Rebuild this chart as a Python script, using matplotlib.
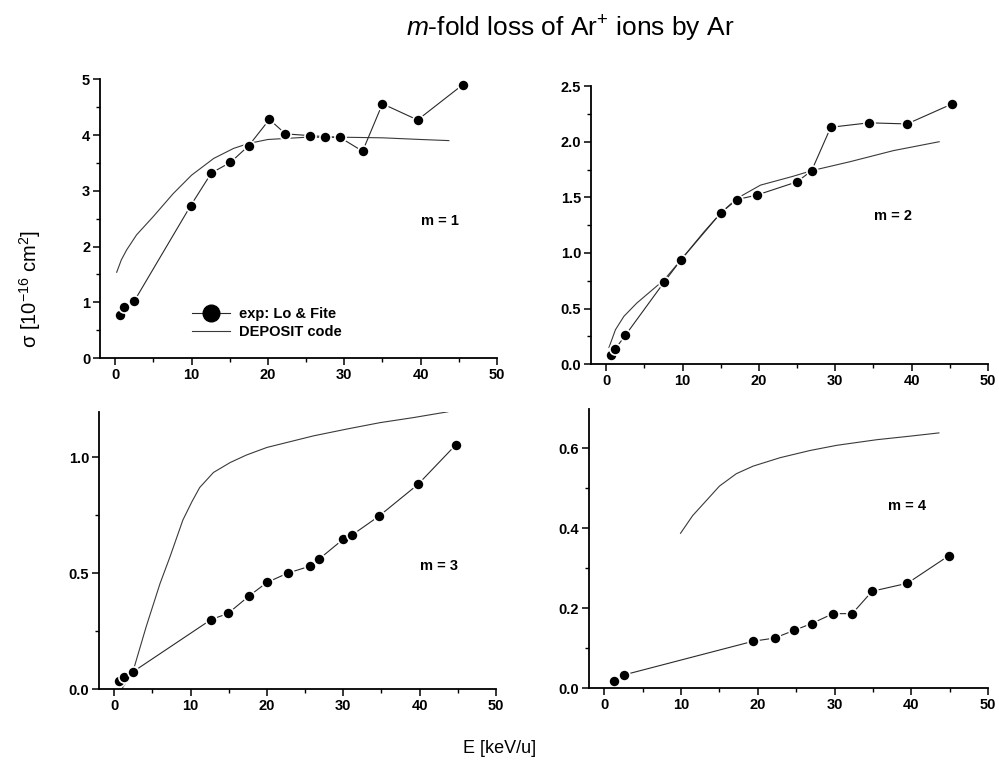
import numpy as np
import matplotlib
matplotlib.use("Agg")
import matplotlib.pyplot as plt
from matplotlib.ticker import MultipleLocator

plt.rcParams['font.family'] = ['Liberation Sans', 'DejaVu Sans']
plt.rcParams['mathtext.fontset'] = 'custom'
plt.rcParams['mathtext.rm'] = 'Liberation Sans'
plt.rcParams['mathtext.it'] = 'Liberation Sans:italic'

# experimental cross sections (Lo & Fite), sigma in 1e-16 cm^2 vs E in keV/u
exp1_E = [0.57, 1.18, 2.53, 9.87, 12.6, 15.1, 17.5, 20.2, 22.3, 25.5, 27.5, 29.4, 32.4, 35.0, 39.6, 45.5]
exp1_s = [0.78, 0.92, 1.03, 2.73, 3.32, 3.51, 3.81, 4.28, 4.02, 3.99, 3.97, 3.96, 3.71, 4.56, 4.27, 4.90]

exp2_E = [0.57, 1.2, 2.5, 7.6, 9.8, 15.0, 17.1, 19.7, 25.0, 26.9, 29.4, 34.4, 39.4, 45.3]
exp2_s = [0.084, 0.14, 0.26, 0.74, 0.94, 1.36, 1.48, 1.52, 1.64, 1.74, 2.13, 2.17, 2.16, 2.34]

exp3_E = [0.6, 1.27, 2.5, 12.7, 14.9, 17.6, 20.0, 22.7, 25.6, 26.8, 30.0, 31.2, 34.7, 39.8, 44.7]
exp3_s = [0.033, 0.05, 0.075, 0.30, 0.326, 0.40, 0.46, 0.50, 0.53, 0.56, 0.647, 0.666, 0.747, 0.884, 1.053]

exp4_E = [1.2, 2.6, 19.4, 22.2, 24.7, 27.0, 29.8, 32.3, 34.9, 39.5, 44.9]
exp4_s = [0.017, 0.033, 0.117, 0.125, 0.144, 0.161, 0.186, 0.186, 0.242, 0.262, 0.331]

# DEPOSIT code results
dep1_E = [0.2, 0.8, 1.5, 2.8, 5.0, 7.6, 10.0, 12.9, 15.5, 17.5, 20.0, 25.0, 30.0, 35.0, 40.0, 43.7]
dep1_s = [1.54, 1.76, 1.94, 2.21, 2.54, 2.95, 3.28, 3.58, 3.76, 3.85, 3.92, 3.96, 3.96, 3.95, 3.92, 3.90]

dep2_E = [0.35, 1.2, 2.3, 4.0, 7.6, 9.8, 12.8, 15.0, 17.1, 20.2, 24.5, 26.9, 31.9, 37.6, 43.6]
dep2_s = [0.15, 0.31, 0.43, 0.55, 0.76, 0.94, 1.19, 1.36, 1.49, 1.61, 1.69, 1.74, 1.82, 1.92, 2.00]

dep3_E = [1.0, 2.5, 4.2, 6.0, 7.3, 9.0, 10.2, 11.2, 13.0, 15.2, 17.3, 20.0, 26.1, 30.4, 34.8, 39.2, 43.7]
dep3_s = [0.0, 0.08, 0.27, 0.455, 0.57, 0.73, 0.81, 0.87, 0.935, 0.978, 1.01, 1.043, 1.093, 1.122, 1.15, 1.172, 1.197]

dep4_E = [9.93, 11.5, 13.3, 15.0, 17.2, 19.4, 22.9, 26.8, 30.3, 35.5, 39.9, 43.6]
dep4_s = [0.387, 0.431, 0.469, 0.505, 0.536, 0.555, 0.576, 0.594, 0.607, 0.621, 0.630, 0.638]

panels = [
    # rect, exp, dep, ytop, major, minor, m-label pos, m-label, tick format
    ([0.100, 0.530, 0.3975, 0.366], (exp1_E, exp1_s), (dep1_E, dep1_s), 5.0, 1, 0.5, (42.5, 2.45), "m = 1", '%d'),
    ([0.5916, 0.522, 0.3974, 0.365], (exp2_E, exp2_s), (dep2_E, dep2_s), 2.5, 0.5, 0.25, (37.6, 1.33), "m = 2", '%.1f'),
    ([0.099, 0.0958, 0.3975, 0.3632], (exp3_E, exp3_s), (dep3_E, dep3_s), 1.195, 0.5, 0.25, (42.5, 0.53), "m = 3", '%.1f'),
    ([0.5896, 0.0971, 0.3994, 0.366], (exp4_E, exp4_s), (dep4_E, dep4_s), 0.6975, 0.2, 0.1, (39.4, 0.455), "m = 4", '%.1f'),
]

fig = plt.figure(figsize=(9.99, 7.62), dpi=100)

for i, (rect, ex, dp, ytop, major, minor, mpos, mlabel, fmt) in enumerate(panels):
    ax = fig.add_axes(rect)
    dep_line, = ax.plot(dp[0], dp[1], '-', color='#3a3a3a', lw=0.8)
    exp_line, = ax.plot(ex[0], ex[1], '-', color='#2a2a2a', lw=0.8, marker='o',
                        ms=8, mfc='black', mec='white', mew=1.2)
    ax.set_xlim(-2, 50)
    ax.set_ylim(0, ytop)
    ax.xaxis.set_major_locator(MultipleLocator(10))
    ax.xaxis.set_minor_locator(MultipleLocator(5))
    ax.yaxis.set_major_locator(MultipleLocator(major))
    ax.yaxis.set_minor_locator(MultipleLocator(minor))
    ax.yaxis.set_major_formatter(matplotlib.ticker.FormatStrFormatter(fmt))
    for s in ['top', 'right']:
        ax.spines[s].set_visible(False)
    for s in ['left', 'bottom']:
        ax.spines[s].set_linewidth(1.3)
    ax.tick_params(which='major', direction='out', length=5, width=1.1,
                   labelsize=10.5, pad=2)
    ax.tick_params(which='minor', direction='out', length=3, width=1.0)
    for lab in ax.get_xticklabels() + ax.get_yticklabels():
        lab.set_fontweight('bold')
    ax.text(mpos[0], mpos[1], mlabel, fontsize=10.5, fontweight='bold',
            ha='center', va='center')
    if i == 0:
        leg_exp, = ax.plot([], [], '-', color='#2a2a2a', lw=0.8, marker='o',
                           ms=12, mfc='black', mec='black')
        ax.legend([leg_exp, dep_line], ["exp: Lo & Fite", "DEPOSIT code"],
                  loc='lower left', bbox_to_anchor=(0.2, 0.02), frameon=False,
                  prop={'weight': 'bold', 'size': 10.5}, handlelength=2.6,
                  labelspacing=0.3, handletextpad=0.6)

fig.text(0.571, 0.962, "$m$-fold loss of Ar$^{+}$ ions by Ar", fontsize=19,
         ha='center', va='center')
fig.text(0.500, 0.018, "E [keV/u]", fontsize=13, ha='center', va='center')
fig.text(0.030, 0.62, "σ [10$^{-16}$ cm$^{2}$]", fontsize=14.5, rotation=90,
         ha='center', va='center')

fig.savefig("out.png", dpi=100)
